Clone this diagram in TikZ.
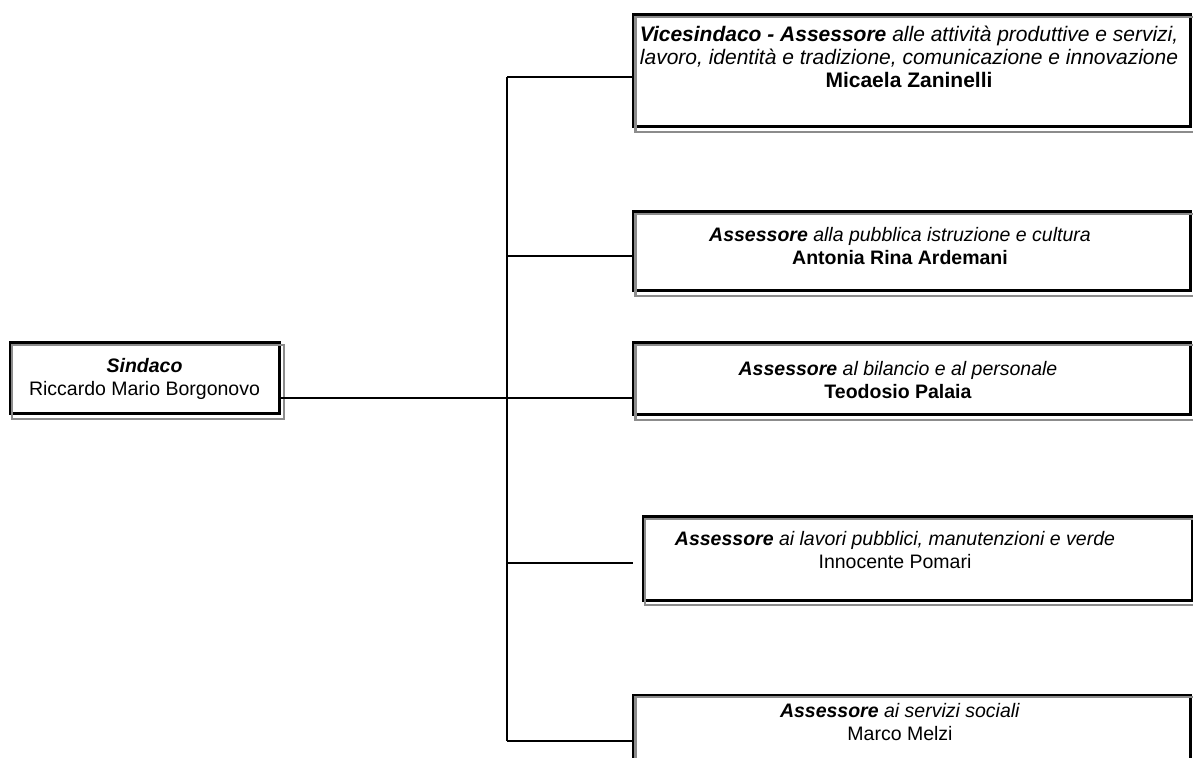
\documentclass[tikz,border=0pt]{standalone}
\usepackage{fontspec}
\setmainfont{Liberation Sans}
\usetikzlibrary{positioning,calc}

\begin{document}
\begin{tikzpicture}[
  x=0.5pt, y=-0.5pt,
  frame/.style={draw, line width=1.5pt, inner sep=0pt},
  ghost/.style={draw=black!45, line width=1.1pt},
  link/.style={line width=1pt},
  txt/.style={align=center, inner sep=0pt, font=\fontsize{9.75}{11.5}\selectfont}
]
  \useasboundingbox (0,0) rectangle (1193,758);
  \clip (0,0) rectangle (1193,758);

  % boxes
  \node[frame, minimum width=134.5pt, minimum height=35.5pt, txt] (b0) at (144.5,378.5)
    {\textbf{\textit{Sindaco}}\\Riccardo Mario Borgonovo};
  \node[frame, minimum width=278.5pt, minimum height=56pt] (b1) at (912,71) {};
  \node[frame, minimum width=278.5pt, minimum height=39.5pt] (b2) at (912,251.5) {};
  \node[frame, minimum width=278.5pt, minimum height=36pt] (b3) at (912,379) {};
  \node[frame, minimum width=274.5pt, minimum height=41.5pt] (b4) at (917.5,558.5) {};
  \node[frame, minimum width=278.5pt, minimum height=52.5pt] (b5) at (912,747.5) {};

  \foreach \b in {b0,b1,b2,b3,b4,b5}
    \draw[ghost] ([shift={(3.5,3.5)}]\b.north west) rectangle ([shift={(3.5,3.5)}]\b.south east);

  % texts
  \node[txt, font=\fontsize{10.5}{11.5}\selectfont] (t1) at (909,57)
    {\textbf{\textit{Vicesindaco - Assessore}} \textit{alle attività produttive e servizi,}\\
    \textit{lavoro, identità e tradizione, comunicazione e innovazione}\\\textbf{Micaela Zaninelli}};
  \node[txt] (t2) at (900,246.5) {\textbf{\textit{Assessore}} \textit{alla pubblica istruzione e cultura}\\\textbf{Antonia Rina Ardemani}};
  \node[txt] (t3) at (898,380) {\textbf{\textit{Assessore}} \textit{al bilancio e al personale}\\\textbf{Teodosio Palaia}};
  \node[txt] (t4) at (895,550) {\textbf{\textit{Assessore}} \textit{ai lavori pubblici, manutenzioni e verde}\\Innocente Pomari};
  \node[txt] (t5) at (900,722.5) {\textbf{\textit{Assessore}} \textit{ai servizi sociali}\\Marco Melzi};

  % connectors
  \coordinate (j1) at (507,77);
  \coordinate (j2) at (507,256);
  \coordinate (j3) at (507,398);
  \coordinate (j4) at (507,563);
  \coordinate (j5) at (507,741);
  \coordinate (e4) at (633,563);

  \draw[link] (j1) -- (j5);
  \draw[link] (j1) -- (j1 -| b1.west);
  \draw[link] (j2) -- (j2 -| b2.west);
  \draw[link] (b0.east |- j3) -- (j3 -| b3.west);
  \draw[link] (j4) -- (e4);
  \draw[link] (j5) -- (j5 -| b5.west);
\end{tikzpicture}
\end{document}
